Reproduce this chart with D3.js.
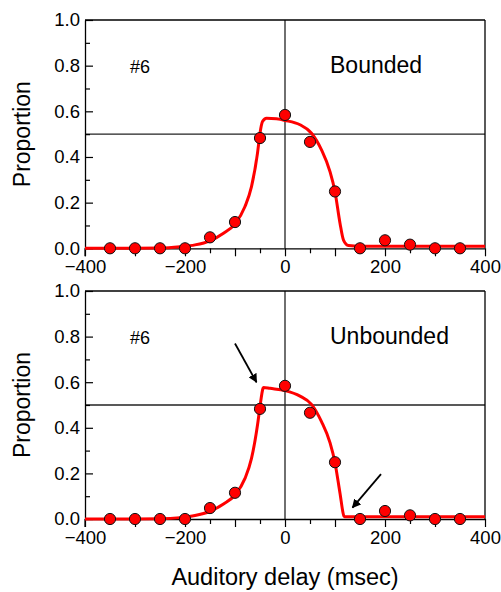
<!DOCTYPE html>
<html>
<head>
<meta charset="utf-8">
<script src="https://cdn.jsdelivr.net/npm/d3@7"></script>
<style>
  html, body { margin: 0; padding: 0; background: #fff; }
  svg { display: block; }
  text { font-family: "Liberation Sans", Arial, Helvetica, sans-serif; fill: #000; }
</style>
</head>
<body>
<svg id="chart" width="501" height="592"></svg>
<script>
// Auditory delays (ms) at which proportions were measured
const delays = [-350, -300, -250, -200, -150, -100, -50, 0, 50, 100, 150, 200, 250, 300, 350];
// Observed proportions for observer #6 (same data in both panels)
const proportions = [0, 0, 0, 0, 0.048, 0.115, 0.483, 0.584, 0.466, 0.249, 0, 0.035, 0.016, 0, 0];

// Model fit, bounded version (delay, proportion)
const boundedFitX = [-400, -300, -250, -210, -180, -150, -123, -100, -80, -67, -55, -50, -45, -37, -17, 0, 30, 53, 73, 90, 100, 110, 117, 127, 150, 200, 300, 400];
const boundedFitY = [0, 0, 0.001, 0.007, 0.015, 0.033, 0.066, 0.107, 0.183, 0.27, 0.417, 0.504, 0.555, 0.570, 0.567, 0.560, 0.541, 0.504, 0.431, 0.336, 0.248, 0.11, 0.036, 0.012, 0.009, 0.009, 0.009, 0.009];

// Model fit, unbounded version (delay, proportion)
const unboundedFitX = [-400, -300, -250, -210, -180, -150, -123, -100, -80, -67, -55, -50, -44, -43, -30, 0, 30, 53, 73, 90, 100, 110, 118, 119, 200, 300, 400];
const unboundedFitY = [0, 0, 0.001, 0.006, 0.015, 0.034, 0.066, 0.105, 0.178, 0.266, 0.412, 0.493, 0.573, 0.577, 0.573, 0.563, 0.539, 0.503, 0.427, 0.335, 0.247, 0.113, 0.012, 0.01, 0.01, 0.01, 0.01];

// Axis ticks
const xTicks = d3.range(-400, 401, 50);
const xTickLabels = [-400, -200, 0, 200, 400];
const yTicks = d3.range(0, 1.001, 0.1).map(v => +v.toFixed(1));
const yTickLabels = [0, 0.2, 0.4, 0.6, 0.8, 1.0];

// Arrows in the unbounded panel: [x0, y0, x1, y1] in data units
const arrows = [
  [-100, 0.77, -57, 0.60],
  [192, 0.197, 135, 0.05]
];

const svg = d3.select("#chart");

svg.append("defs").append("marker")
  .attr("id", "arrowhead")
  .attr("viewBox", "0 0 10 10")
  .attr("refX", 9).attr("refY", 5)
  .attr("markerWidth", 9).attr("markerHeight", 9)
  .attr("markerUnits", "userSpaceOnUse")
  .attr("orient", "auto")
  .append("path").attr("d", "M0,0 L10,5 L0,10 Z").attr("fill", "#000");

const panels = [
  { top: 20, bottom: 248.3, label: "Bounded", fx: boundedFitX, fy: boundedFitY, arrows: [] },
  { top: 291, bottom: 519, label: "Unbounded", fx: unboundedFitX, fy: unboundedFitY, arrows: arrows }
];

const left = 85, right = 485;

panels.forEach(p => {
  const x = d3.scaleLinear().domain([-400, 400]).range([left, right]);
  const y = d3.scaleLinear().domain([0, 1]).range([p.bottom, p.top]);
  const g = svg.append("g");

  // Reference lines at zero delay and 0.5
  g.append("line")
    .attr("x1", x(0)).attr("x2", x(0)).attr("y1", y(1)).attr("y2", y(0))
    .attr("stroke", "#222").attr("stroke-width", 1.3);
  g.append("line")
    .attr("x1", x(-400)).attr("x2", x(400)).attr("y1", y(0.5)).attr("y2", y(0.5))
    .attr("stroke", "#222").attr("stroke-width", 1.3);

  // Frame top and right
  g.append("line")
    .attr("x1", x(-400)).attr("x2", x(400)).attr("y1", y(1)).attr("y2", y(1))
    .attr("stroke", "#000").attr("stroke-width", 1.3);
  g.append("line")
    .attr("x1", x(400)).attr("x2", x(400)).attr("y1", y(1)).attr("y2", y(0))
    .attr("stroke", "#000").attr("stroke-width", 1.3);

  // Bottom axis: ticks every 50 ms, longer at hundreds, labels every 200 ms
  const xAxis = d3.axisBottom(x).tickValues(xTicks).tickSizeOuter(0)
    .tickFormat(d => xTickLabels.includes(d) ? d3.format("")(d) : "");
  const xg = g.append("g").attr("transform", `translate(0,${y(0)})`).call(xAxis);
  xg.select(".domain").attr("stroke", "#000").attr("stroke-width", 1.3);
  xg.selectAll(".tick line")
    .attr("y2", d => d % 100 === 0 ? 8 : 5)
    .attr("stroke", "#000").attr("stroke-width", 1.2);
  xg.selectAll(".tick text")
    .attr("y", 12).attr("dy", "0.71em")
    .style("font-size", "18.5px")
    .style("font-family", '"Liberation Sans", Arial, sans-serif')
    .attr("fill", "#000");

  // Left axis: ticks every 0.1 pointing inward, labels every 0.2
  const yAxis = d3.axisLeft(y).tickValues(yTicks).tickSizeOuter(0)
    .tickFormat(d => yTickLabels.some(v => Math.abs(v - d) < 1e-9) ? d3.format(".1f")(d) : "");
  const yg = g.append("g").attr("transform", `translate(${x(-400)},0)`).call(yAxis);
  yg.select(".domain").attr("stroke", "#000").attr("stroke-width", 1.3);
  yg.selectAll(".tick line")
    .attr("x2", d => Math.round(d * 10) % 2 === 0 ? 8 : 5)
    .attr("stroke", "#000").attr("stroke-width", 1.2);
  yg.selectAll(".tick text")
    .attr("x", -5)
    .style("font-size", "18.5px")
    .style("font-family", '"Liberation Sans", Arial, sans-serif')
    .attr("fill", "#000");

  // Left frame continues down as the -400 tick
  g.append("line")
    .attr("x1", x(-400)).attr("x2", x(-400)).attr("y1", y(0)).attr("y2", y(0) + 8)
    .attr("stroke", "#000").attr("stroke-width", 1.2);

  // Fitted curve
  const fit = p.fx.map((d, i) => [d, p.fy[i]]);
  g.append("path")
    .datum(fit)
    .attr("fill", "none")
    .attr("stroke", "#ff0000")
    .attr("stroke-width", 3)
    .attr("stroke-linejoin", "round")
    .attr("d", d3.line().x(d => x(d[0])).y(d => y(d[1])).curve(d3.curveMonotoneX));

  // Observed points
  g.selectAll("circle.obs")
    .data(delays.map((d, i) => [d, proportions[i]]))
    .join("circle")
    .attr("class", "obs")
    .attr("cx", d => x(d[0])).attr("cy", d => y(d[1]))
    .attr("r", 5.6)
    .attr("fill", "#ff0000")
    .attr("stroke", "#111")
    .attr("stroke-width", 1);

  // Panel labels
  g.append("text")
    .attr("x", x(-310)).attr("y", y(0.8) + 7)
    .style("font-size", "18px")
    .text("#6");
  g.append("text")
    .attr("x", x(90)).attr("y", y(0.8) + 7)
    .style("font-size", "23px")
    .text(p.label);

  // Y axis title
  g.append("text")
    .attr("transform", `translate(30,${(y(0) + y(1)) / 2}) rotate(-90)`)
    .attr("text-anchor", "middle")
    .style("font-size", "23px")
    .text("Proportion");

  // Arrows
  p.arrows.forEach(a => {
    g.append("line")
      .attr("x1", x(a[0])).attr("y1", y(a[1]))
      .attr("x2", x(a[2])).attr("y2", y(a[3]))
      .attr("stroke", "#000").attr("stroke-width", 1.8)
      .attr("marker-end", "url(#arrowhead)");
  });
});

// X axis title
svg.append("text")
  .attr("x", 285).attr("y", 585)
  .attr("text-anchor", "middle")
  .style("font-size", "23.5px")
  .text("Auditory delay (msec)");
</script>
</body>
</html>
